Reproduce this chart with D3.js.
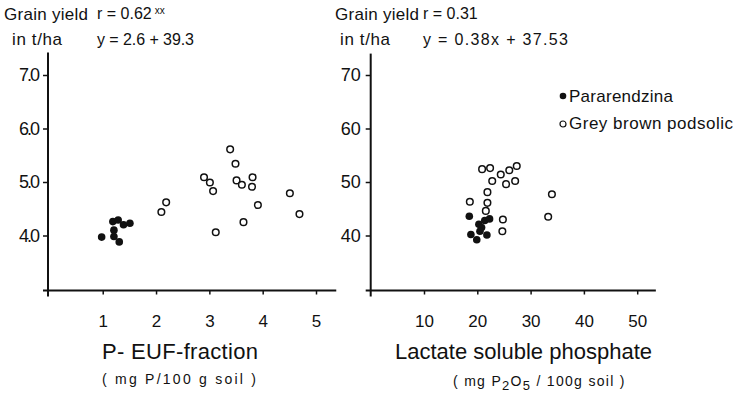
<!DOCTYPE html>
<html>
<head>
<meta charset="utf-8">
<script src="https://cdn.jsdelivr.net/npm/d3@7"></script>
<style>
  body { margin: 0; background: #fff; }
  svg { display: block; font-family: "Liberation Sans", Arial, sans-serif; }
  text { fill: #111; }
</style>
</head>
<body>
<svg id="chart"></svg>
<script>
// P-EUF fraction (mg P/100 g soil) vs grain yield (t/ha)
var eufPararendzina = [[0.98,3.97],[1.19,4.26],[1.29,4.29],[1.21,4.10],[1.21,3.98],[1.31,3.88],[1.39,4.20],[1.51,4.23]];
var eufPodsolic = [[2.10,4.44],[2.19,4.62],[2.90,5.09],[3.01,4.99],[3.07,4.83],[3.12,4.06],[3.39,5.61],[3.49,5.34],
                   [3.51,5.03],[3.61,4.95],[3.64,4.25],[3.81,5.09],[3.80,4.91],[3.91,4.57],[4.51,4.79],[4.69,4.40]];
// lactate soluble phosphate (mg P2O5/100 g soil) vs grain yield (dt/ha)
var lacPararendzina = [[18.5,43.6],[20.3,42.1],[21.4,42.8],[22.3,43.1],[20.8,41.5],[20.5,40.8],[18.8,40.2],[19.9,39.2],[21.8,40.1]];
var lacPodsolic = [[20.9,52.4],[22.4,52.6],[24.4,51.4],[26.0,52.2],[27.4,53.0],[22.8,50.2],[25.4,49.6],[27.1,50.2],
                   [21.9,48.1],[18.6,46.3],[21.9,46.1],[21.6,44.6],[24.8,43.0],[24.7,40.8],[34.0,47.7],[33.3,43.5]];

var eufTicksX = [1, 2, 3, 4, 5];
var eufTicksY = [4, 5, 6, 7];
var lacTicksX = [10, 20, 30, 40, 50];
var lacTicksY = [40, 50, 60, 70];
var legendLabels = ["Pararendzina", "Grey brown podsolic"];

var svg = d3.select("#chart").attr("width", 733).attr("height", 393);

function panel(o) {
  var x = d3.scaleLinear().domain(o.xDom).range(o.xRange);
  var y = d3.scaleLinear().domain(o.yDom).range([235.5, 75]);
  var g = svg.append("g");
  var axisY = 290.5;
  var ax = x(0) - o.shift;

  // x axis
  var gx = g.append("g").attr("transform", "translate(0," + axisY + ")")
    .call(d3.axisBottom(x).tickValues(o.ticksX).tickSize(4).tickSizeOuter(0).tickFormat(d3.format("d")));
  gx.select(".domain").remove();
  gx.selectAll(".tick line").attr("stroke", "#111").attr("stroke-width", 1.5);
  gx.selectAll(".tick text").attr("y", 24).attr("font-size", 17).attr("font-family", null).attr("fill", "#111");
  g.append("line").attr("x1", ax - 5).attr("x2", x(o.xEnd)).attr("y1", axisY).attr("y2", axisY)
    .attr("stroke", "#111").attr("stroke-width", 2);

  // y axis
  var gy = g.append("g").attr("transform", "translate(" + ax + ",0)")
    .call(d3.axisLeft(y).tickValues(o.ticksY).tickSize(5).tickSizeOuter(0).tickFormat(o.fmt));
  gy.select(".domain").remove();
  gy.selectAll(".tick line").attr("stroke", "#111").attr("stroke-width", 1.5);
  gy.selectAll(".tick text").attr("x", -10).attr("font-size", 18).attr("font-family", null).attr("fill", "#111")
    .attr("letter-spacing", o.ls);
  g.append("line").attr("x1", ax).attr("x2", ax).attr("y1", y(o.yTop)).attr("y2", axisY + 6)
    .attr("stroke", "#111").attr("stroke-width", 2);

  // points
  g.selectAll(".open").data(o.open).enter().append("circle")
    .attr("cx", function(d) { return x(d[0]); }).attr("cy", function(d) { return y(d[1]); })
    .attr("r", 3.3).attr("fill", "#fff").attr("stroke", "#111").attr("stroke-width", 1.5);
  g.selectAll(".filled").data(o.filled).enter().append("circle")
    .attr("cx", function(d) { return x(d[0]); }).attr("cy", function(d) { return y(d[1]); })
    .attr("r", 3.8).attr("fill", "#111");
  return g;
}

panel({ xDom: [0, 5], xRange: [49.4, 316], xEnd: 5.38, yDom: [4, 7], yTop: 7.42, shift: 1.4,
        ticksX: eufTicksX, ticksY: eufTicksY, fmt: d3.format(".1f"), ls: -2,
        filled: eufPararendzina, open: eufPodsolic });
panel({ xDom: [0, 50], xRange: [370.7, 637.2], xEnd: 53.5, yDom: [40, 70], yTop: 74, shift: 0,
        ticksX: lacTicksX, ticksY: lacTicksY, fmt: d3.format("d"), ls: 0,
        filled: lacPararendzina, open: lacPodsolic });

function txt(s, x, y, size, len) {
  var t = svg.append("text").attr("x", x).attr("y", y).attr("font-size", size).text(s);
  if (len) t.attr("textLength", len).attr("lengthAdjust", "spacing");
  return t;
}

// header text
txt("Grain yield", 4, 20, 17, 84);
txt("in t/ha", 12, 45, 17, 50);
var r1 = txt("r = 0.62", 97, 19, 16);
r1.append("tspan").attr("dy", -5).attr("dx", 3).attr("font-size", 10).text("xx");
txt("y = 2.6 + 39.3", 97, 45, 16, 97);

txt("Grain yield", 335, 20, 17, 84);
txt("in t/ha", 340, 45, 17, 50);
txt("r = 0.31", 423, 19, 16);
txt("y = 0.38x  + 37.53", 423, 45, 16, 145);

// axis titles
txt("P- EUF-fraction", 102, 359, 22, 156);
txt("( mg P/100 g soil )", 102, 384, 14, 154);
txt("Lactate soluble phosphate", 395, 359, 22, 257);
var sub = svg.append("text").attr("x", 453).attr("y", 386).attr("font-size", 14).attr("letter-spacing", 1.3);
sub.append("tspan").text("( mg P");
sub.append("tspan").attr("dy", 4).attr("font-size", 13).text("2");
sub.append("tspan").attr("dy", -4).text("O");
sub.append("tspan").attr("dy", 4).attr("font-size", 13).text("5");
sub.append("tspan").attr("dy", -4).text(" / 100g soil )");

// legend
var lg = svg.append("g").attr("transform", "translate(563,0)");
lg.append("circle").attr("cx", 0).attr("cy", 96).attr("r", 3.3).attr("fill", "#111");
lg.append("circle").attr("cx", 0).attr("cy", 124).attr("r", 3).attr("fill", "#fff").attr("stroke", "#111").attr("stroke-width", 1.2);
lg.selectAll(".lab").data(legendLabels).enter().append("text")
  .attr("x", 6).attr("y", function(d, i) { return 102 + i * 27; })
  .attr("font-size", 17)
  .attr("textLength", function(d, i) { return i ? 164 : 104; }).attr("lengthAdjust", "spacing")
  .text(function(d) { return d; });
</script>
</body>
</html>
